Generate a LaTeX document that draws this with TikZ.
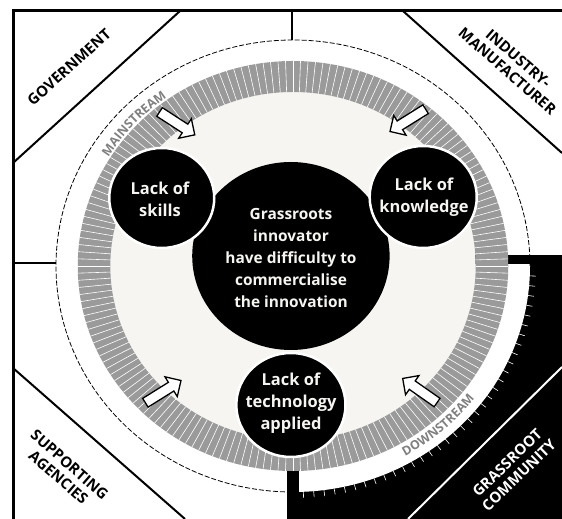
\documentclass[tikz,border=0pt]{standalone}
\usepackage{fontspec}
\setmainfont{Open Sans}
\usetikzlibrary{shapes.arrows,decorations.text}
\definecolor{ringgray}{HTML}{9A9A9A}
\definecolor{cream}{HTML}{F6F5F1}
\definecolor{tagtext}{HTML}{808080}
\tikzset{
  lack/.style={font=\bfseries\fontsize{16.5}{22}\selectfont,text=cream,align=center},
  core/.style={font=\bfseries\fontsize{15.5}{22}\selectfont,text=cream,align=center},
  corner/.style={font=\bfseries\fontsize{15}{17}\selectfont,align=center},
  inarrow/.style={single arrow,draw=black,fill=white,line width=1.3bp,
    minimum height=42bp,inner sep=4.5bp,single arrow head extend=6.5bp},
  spoke/.style={white,line width=0.6bp}
}

\begin{document}
\begin{tikzpicture}[x=1bp,y=1bp]
\useasboundingbox (0,0) rectangle (562,519);
\fill[white] (0,0) rectangle (562,519);
% grassroot quarter
\fill[black] (287,0) rectangle (562,264);
\begin{scope}
  \clip (299,0) rectangle (562,254);
  \fill[white] (293,253) ellipse [x radius=237,y radius=226];
\end{scope}
\foreach \a in {-2.5,-5,...,-87.5}
  \draw[spoke] (293,253) ++(\a:237 and 226) -- ++(\a:6);
\draw[line width=0.8bp,dash pattern=on 5bp off 2bp] (293,253) ++(0:237 and 226)
  arc[start angle=0,end angle=270,x radius=237,y radius=226];
% frame and dividers
\draw[line width=3bp] (562,508) -- (13,508) -- (13,0);
\draw[line width=2bp] (180,508) -- (13,356);
\draw[line width=2bp] (403,508) -- (562,366);
\draw[line width=2bp] (13,151) -- (185,0);
\draw[white,line width=2bp] (408,0) -- (562,152);
\draw[line width=1.5bp] (292,508) -- (292,479);
\draw[line width=1.5bp] (13,256) -- (56,256);
% ring and circles
\begin{scope}[shift={(293,253)},xscale=1.05]
  \fill[cream] (0,0) circle (174);
  \fill[ringgray,even odd rule] (0,0) circle (205) (0,0) circle (174);
  \foreach \a in {0,2,...,358}
    \draw[spoke] (\a:174) -- (\a:205);
  \fill[black] (-2,10) circle (94);
  \filldraw[fill=black,draw=white,line width=2.5bp] (-125,68) circle (50);
  \filldraw[fill=black,draw=white,line width=2.5bp] (124,69) circle (51);
  \filldraw[fill=black,draw=white,line width=2.5bp] (-2,-139) circle (52);
\end{scope}
\node[core] (core) at (291,261) {Grassroots\\innovator\\have difficulty to\\commercialise\\the innovation};
\node[lack] (skills) at (160,320) {Lack of\\skills};
\node[lack] (knowledge) at (424,322) {Lack of\\knowledge};
\node[lack] (technology) at (291,116) {Lack of\\technology\\applied};
% sectors
\node[corner,rotate=42] (govt) at (69,452) {GOVERNMENT};
\node[corner,rotate=-41] (industry) at (513,454) {INDUSTRY-\\MANUFACTURER};
\node[corner,rotate=-41] (agencies) at (64,48) {SUPPORTING\\AGENCIES};
\node[corner,rotate=44,text=white] (community) at (513,50) {GRASSROOT\\COMMUNITY};
% inflow arrows
\node[inarrow,rotate=-33] (inUL) at (175,397) {};
\node[inarrow,rotate=212] (inUR) at (410,400) {};
\node[inarrow,rotate=32] (inLL) at (161,126) {};
\node[inarrow,rotate=145] (inLR) at (422,127) {};
% stream labels
\path[decorate,decoration={text along path,text align=center,
  text={|\color{tagtext}\bfseries\fontsize{12.5}{12.5}\selectfont|MAINSTREAM}}]
  (293,253) ++(156:217 and 207) arc[start angle=156,end angle=118,x radius=217,y radius=207];
\path[decorate,decoration={text along path,text align=center,
  text={|\color{tagtext}\bfseries\fontsize{12.5}{12.5}\selectfont|DOWNSTREAM}}]
  (293,253) ++(-68:229 and 218) arc[start angle=-68,end angle=-30,x radius=229,y radius=218];
\end{tikzpicture}
\end{document}
